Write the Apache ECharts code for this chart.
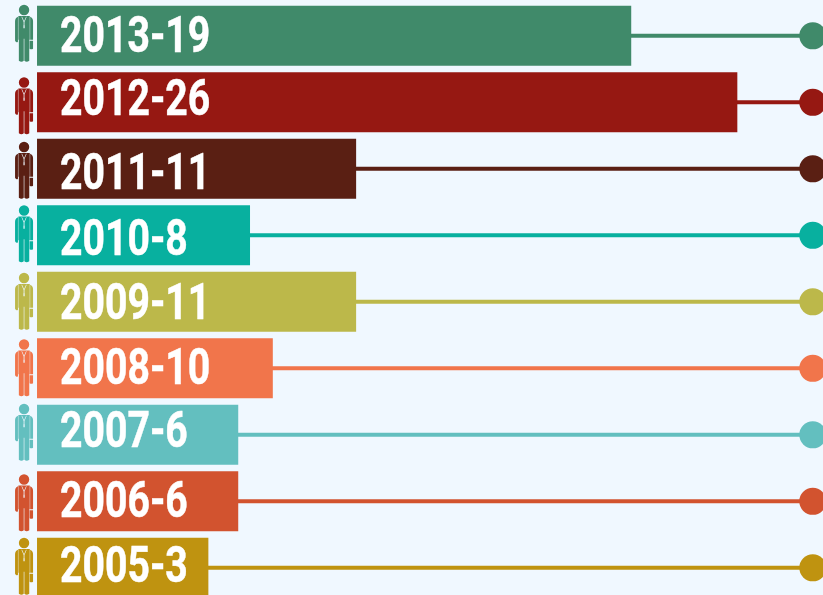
<!DOCTYPE html>
<html>
<head>
<meta charset="utf-8">
<style>html,body{margin:0;padding:0;background:#f0f8ff;overflow:hidden}#c{width:823px;height:595px}</style>
<script src="https://cdn.jsdelivr.net/npm/echarts@6/dist/echarts.min.js"></script>
</head>
<body>
<div id="c"></div>
<script>
const categories = ['2013-19','2012-26','2011-11','2010-8','2009-11','2008-10','2007-6','2006-6','2005-3'];
const barValues = [75.6, 89.1, 40.6, 27.1, 40.6, 30.0, 25.6, 25.6, 21.8];
const trackEnd = [98.7, 98.7, 98.7, 98.7, 98.7, 98.7, 98.7, 98.7, 98.7];
const iconPos = [-1.65, -1.65, -1.65, -1.65, -1.65, -1.65, -1.65, -1.65, -1.65];
const labelStart = [2.93, 2.93, 2.93, 2.93, 2.93, 2.93, 2.93, 2.93, 2.93];
const colors = ['#408a6a','#961812','#5a1f13','#08b09f','#bcb84a','#f1754b','#63bfbf','#d2532f','#bf9310'];
const labelNudge = [3.5, 0.5, 8, 7, 4.5, 3.5, -0.5, 3, 1.5];
const iconNudge = [-2.5, 3.5, 1.5, -1.5, -0.5, -0.5, -2.5, 1.5, -1.5];

const person = 'path://M38 52A52 52 0 1 1 142 52A52 52 0 1 1 38 52Z' +
  'M0 165Q0 128 29 118L29 370Q15 385 0 360Z' +
  'M151 118Q180 128 180 165L180 350L151 350Z' +
  'M146 360L180 360L180 440Q163 450 146 440Z' +
  'M33 112L147 112L147 350L142 350L142 560Q116 582 93 560L93 340L87 340L87 560Q64 582 38 560L38 350L33 350Z' +
  'M64 118L86 172L86 205L84 205L84 235L96 235L96 205L94 205L94 172L116 118L110 118L90 165L70 118Z';

const chart = echarts.init(document.getElementById('c'), null, {renderer:'canvas'});
chart.setOption({
  animation:false,
  backgroundColor:'#f0f8ff',
  grid:{left:0,right:0,top:2.6,height:598.5,outerBoundsMode:'none'},
  xAxis:{type:'value',min:-4.71,max:100,show:false},
  yAxis:{type:'category',inverse:true,data:categories,show:false},
  series:[
    {type:'pictorialBar',barWidth:60,symbol:'rect',symbolSize:['100%',4],symbolPosition:'start',z:1,silent:true,
     data:trackEnd.map((v,i)=>({value:v,itemStyle:{color:colors[i]}}))},
    {type:'scatter',symbol:'circle',symbolSize:27,z:2,silent:true,clip:false,
     data:trackEnd.map((v,i)=>({value:[v,categories[i]],itemStyle:{color:colors[i],opacity:1}}))},
    {type:'scatter',symbol:person,symbolSize:[18,57],z:2,silent:true,clip:false,
     data:iconPos.map((v,i)=>({value:[v,categories[i]],symbolOffset:[0,iconNudge[i]],itemStyle:{color:colors[i],opacity:1}}))},
    {type:'bar',barWidth:60,z:3,silent:true,
     data:barValues.map((v,i)=>({value:v,itemStyle:{color:colors[i]}}))},
    {type:'custom',z:4,silent:true,clip:false,
     encode:{x:0,y:1},
     data:labelStart.map((v,i)=>[v,categories[i]]),
     renderItem:function(params,api){
       const i=params.dataIndex;
       const p=api.coord([api.value(0),categories[i]]);
       return {type:'text',x:p[0],y:p[1]+labelNudge[i],scaleX:0.783,
         style:{text:categories[i],fill:'#ffffff',stroke:'#ffffff',lineWidth:0.5,
           font:'bold 50px Roboto,"Liberation Sans",sans-serif',textAlign:'left',textVerticalAlign:'middle'}};
     }}
  ]
});
</script>
</body>
</html>
